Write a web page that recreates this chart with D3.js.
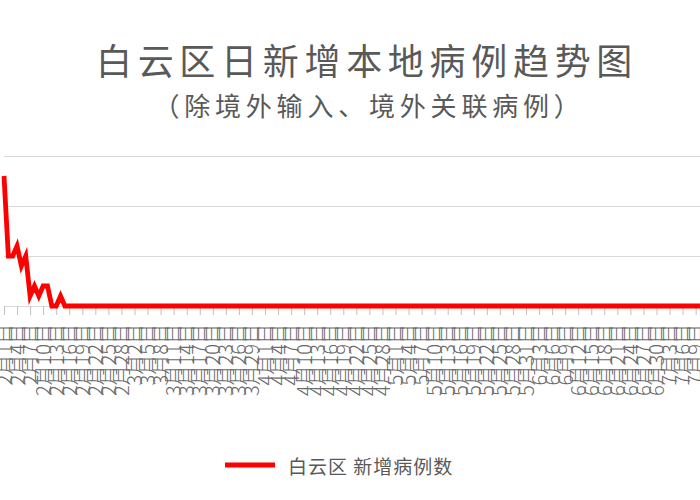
<!DOCTYPE html>
<html>
<head>
<meta charset="utf-8">
<script src="https://cdn.jsdelivr.net/npm/d3@7"></script>
<style>
  body { margin: 0; background: #fff; }
  svg { display: block; font-family: "Noto Sans CJK SC", "Noto Sans", sans-serif; }
</style>
</head>
<body>
<svg width="700" height="500"></svg>
<script>
const svg = d3.select('svg');
const width = +svg.attr('width');
const height = +svg.attr('height');

// daily new local cases, 2020, one array per month
const febCases = [13, 5, 5, 6, 4, 5, 1, 2, 1, 2, 2, 0, 0, 1, 0,
                  0, 0, 0, 0, 0, 0, 0, 0, 0, 0, 0, 0, 0, 0];
const marCases = [0, 0, 0, 0, 0, 0, 0, 0, 0, 0, 0, 0, 0, 0, 0, 0,
                  0, 0, 0, 0, 0, 0, 0, 0, 0, 0, 0, 0, 0, 0, 0];
const aprCases = [0, 0, 0, 0, 0, 0, 0, 0, 0, 0, 0, 0, 0, 0, 0,
                  0, 0, 0, 0, 0, 0, 0, 0, 0, 0, 0, 0, 0, 0, 0];
const mayCases = [0, 0, 0, 0, 0, 0, 0, 0, 0, 0, 0, 0, 0, 0, 0, 0,
                  0, 0, 0, 0, 0, 0, 0, 0, 0, 0, 0, 0, 0, 0, 0];
const junCases = [0, 0, 0, 0, 0, 0, 0, 0, 0, 0, 0, 0, 0, 0, 0,
                  0, 0, 0, 0, 0, 0, 0, 0, 0, 0, 0, 0, 0, 0, 0];
const julCases = [0, 0, 0, 0, 0, 0, 0, 0, 0, 0, 0, 0, 0, 0, 0];

const cases = [].concat(febCases, marCases, aprCases, mayCases, junCases, julCases);
const startDate = new Date(2020, 1, 1);
const yTicks = [0, 5, 10, 15];

const title = '白云区日新增本地病例趋势图';
const subtitle = '（除境外输入、境外关联病例）';
const seriesName = '白云区 新增病例数';

const data = cases.map((v, i) => ({ date: d3.timeDay.offset(startDate, i), value: v }));
// a label every third day, running on across month ends
const tickDates = data.filter((d, i) => i % 3 === 0).map(d => d.date);
const fmt = d => `${d.getMonth() + 1}月${d.getDate()}日`;

const plotLeft = 4;
const dayWidth = 4.35;
const plotTop = 156;
const plotBottom = 306;

const xScale = d3.scaleTime()
    .domain(d3.extent(data, d => d.date))
    .range([plotLeft, plotLeft + dayWidth * (data.length - 1)]);

const yScale = d3.scaleLinear()
    .domain([0, 15])
    .range([plotBottom, plotTop]);

const plotRight = xScale.range()[1];

// title
svg.append('text')
    .attr('x', 367)
    .attr('y', 59)
    .attr('text-anchor', 'middle')
    .attr('dominant-baseline', 'central')
    .attr('fill', '#595959')
    .attr('font-size', 36)
    .attr('letter-spacing', 5.7)
    .text(title);

svg.append('text')
    .attr('x', 369)
    .attr('y', 104)
    .attr('text-anchor', 'middle')
    .attr('dominant-baseline', 'central')
    .attr('fill', '#595959')
    .attr('font-size', 26)
    .attr('letter-spacing', 4.8)
    .text(subtitle);

// gridlines
const yAxis = d3.axisLeft(yScale)
    .tickValues(yTicks)
    .tickSize(-(plotRight - plotLeft))
    .tickFormat('');

const yAxisG = svg.append('g')
    .attr('transform', `translate(${plotLeft}, 0)`)
    .call(yAxis);
yAxisG.select('.domain').remove();
yAxisG.selectAll('line').attr('stroke', '#d9d9d9');

// x axis
const xAxis = d3.axisBottom(xScale)
    .tickValues(tickDates)
    .tickSize(9)
    .tickPadding(0)
    .tickFormat(fmt);

const xAxisG = svg.append('g')
    .attr('transform', `translate(0, ${plotBottom})`)
    .call(xAxis);
xAxisG.select('.domain').attr('stroke', '#d9d9d9');
xAxisG.selectAll('line').attr('stroke', '#bfbfbf');
xAxisG.selectAll('text')
    .attr('fill', '#6a6a6a')
    .attr('font-size', 20)
    .attr('font-family', '"Noto Sans CJK SC", sans-serif')
    .attr('font-weight', 300)
    .attr('text-anchor', 'end')
    .attr('transform', 'rotate(-90)')
    .attr('x', -18)
    .attr('y', 0)
    .attr('dy', '0.35em');

// series line
const line = d3.line()
    .x(d => xScale(d.date))
    .y(d => yScale(d.value));

svg.append('path')
    .datum(data)
    .attr('fill', 'none')
    .attr('stroke', '#ff0000')
    .attr('stroke-width', 4.8)
    .attr('d', line);

// legend
const legend = svg.append('g').attr('transform', 'translate(225, 465)');
legend.append('line')
    .attr('x1', 0).attr('x2', 50)
    .attr('stroke', '#ff0000')
    .attr('stroke-width', 4.8);
legend.append('text')
    .attr('x', 63)
    .attr('dominant-baseline', 'central')
    .attr('fill', '#595959')
    .attr('font-size', 19)
    .attr('letter-spacing', 1)
    .text(seriesName);
</script>
</body>
</html>
